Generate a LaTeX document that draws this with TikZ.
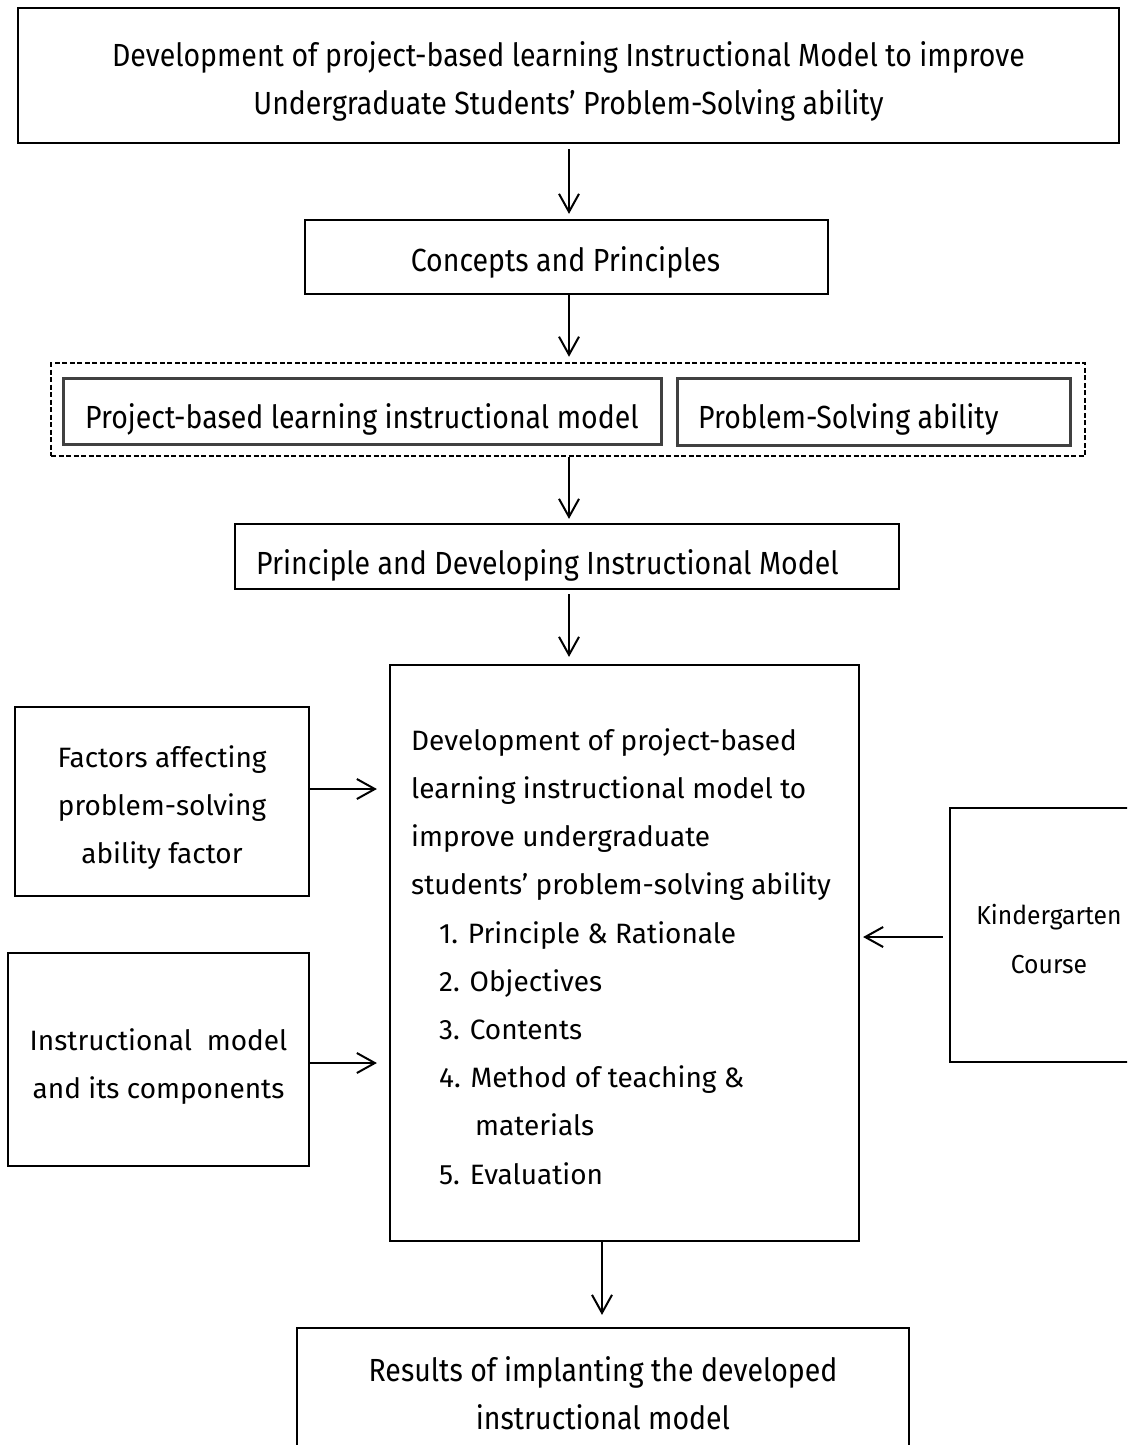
\documentclass[tikz,border=0pt]{standalone}
\usepackage{fontspec}
\setmainfont{Fira Sans}
\newfontfamily\fcond{Fira Sans}[FakeStretch=0.89]
\newfontfamily\fwide{Fira Sans}
\newfontfamily\fkind{Fira Sans}[FakeStretch=0.95]
\usetikzlibrary{arrows.meta}
\begin{document}
\begin{tikzpicture}[x=1pt,y=-1pt]
\tikzset{
  box/.style={draw, line width=2.2pt, rectangle, inner sep=0pt},
  innerbox/.style={draw=black!75, line width=3pt, rectangle, inner sep=0pt},
  dashbox/.style={draw, line width=2.5pt, dash pattern=on 5pt off 2.5pt, rectangle, inner sep=0pt},
  txt/.style={inner sep=0pt},
  cond/.style={txt, font=\fcond\fontsize{32}{48}\selectfont},
  wide/.style={txt, font=\fwide\fontsize{28}{48.2}\selectfont},
  kind/.style={txt, font=\fkind\fontsize{26}{49}\selectfont},
  arr/.style={line width=2pt, -{Straight Barb[length=18pt,width=20pt,line width=2pt]}},
}
\clip (0,0) rectangle (1127,1445);
\fill[white] (0,0) rectangle (1127,1445);

% boxes
\node[box, minimum width=1101pt, minimum height=135pt] (top) at (568.5,75.5) {};
\node[box, minimum width=523pt, minimum height=74pt] (con) at (566.5,257) {};
\node[dashbox, minimum width=1034pt, minimum height=93pt] (grp) at (568,409.5) {};
\node[innerbox, minimum width=598pt, minimum height=66pt] (pbl) at (362,411) {};
\node[innerbox, minimum width=393pt, minimum height=67pt] (ps) at (873.5,411.5) {};
\node[box, minimum width=664pt, minimum height=65pt] (pri) at (567,556.5) {};
\node[box, minimum width=469pt, minimum height=576pt] (main) at (624.5,953) {};
\node[box, minimum width=294pt, minimum height=189pt] (fac) at (162,801.5) {};
\node[box, minimum width=301pt, minimum height=213pt] (ins) at (158.5,1059.5) {};
\node[box, minimum width=198pt, minimum height=254pt] (kin) at (1049,935) {};
\node[box, minimum width=612pt, minimum height=130pt] (res) at (603,1393) {};

% texts
\node[cond, align=center] (ttop) at (568.5,81.5)
  {Development of project-based learning Instructional Model to improve\\Undergraduate Students’ Problem-Solving ability};
\node[cond] (tcon) at (565.5,262.5) {Concepts and Principles};
\node[cond, anchor=west] (tpbl) at (85,419.5) {Project-based learning instructional model};
\node[cond, anchor=west] (tps) at (698,419.5) {Problem-Solving ability};
\node[cond, anchor=west] (tpri) at (256,565.5) {Principle and Developing Instructional Model};
\node[wide, anchor=west, align=flush left] (tmain) at (411,956.5)
  {Development of project-based\\
   learning instructional model to\\
   improve undergraduate\\
   students’ problem-solving ability\\
   \hspace*{28pt}1. Principle \& Rationale\\
   \hspace*{28pt}2. Objectives\\
   \hspace*{28pt}3. Contents\\
   \hspace*{28pt}4. Method of teaching \&\\
   \hspace*{64pt}materials\\
   \hspace*{28pt}5. Evaluation};
\node[wide, align=center] (tfac) at (162,807.5)
  {Factors affecting\\problem-solving\\ability factor};
\node[wide, align=center] (tins) at (158.5,1066.5)
  {Instructional\ \ model\\and its components};
\node[kind, align=center] (tkin) at (1049,939) {Kindergarten\\Course};
\node[cond, align=center] (tres) at (603,1393)
  {Results of implanting the developed\\instructional model};

% arrows
\coordinate (ax) at (569,0);
\coordinate (bx) at (602,0);
\coordinate (ly) at (0,789);
\coordinate (my) at (0,1063);
\coordinate (ky) at (0,937);
\draw[arr, shorten <=5pt, shorten >=5pt] (ax |- top.south) -- (ax |- con.north);
\draw[arr, shorten >=5pt] (ax |- con.south) -- (ax |- grp.north);
\draw[arr, shorten >=4pt] (ax |- grp.south) -- (ax |- pri.north);
\draw[arr, shorten <=4pt, shorten >=7pt] (ax |- pri.south) -- (ax |- main.north);
\draw[arr, shorten >=12pt] (ly -| fac.east) -- (ly -| main.west);
\draw[arr, shorten >=12pt] (my -| ins.east) -- (my -| main.west);
\draw[arr, shorten <=6pt, shorten >=3pt] (ky -| kin.west) -- (ky -| main.east);
\draw[arr, shorten >=12pt] (bx |- main.south) -- (bx |- res.north);
\end{tikzpicture}
\end{document}
